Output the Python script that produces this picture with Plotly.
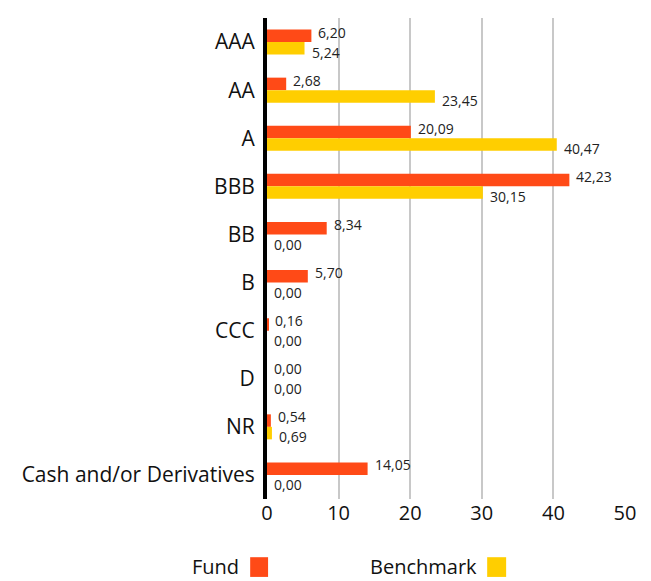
import plotly.graph_objects as go

categories = ["AAA", "AA", "A", "BBB", "BB", "B", "CCC", "D", "NR", "Cash and/or Derivatives"]
fund = [6.20, 2.68, 20.09, 42.23, 8.34, 5.70, 0.16, 0.00, 0.54, 14.05]
benchmark = [5.24, 23.45, 40.47, 30.15, 0.00, 0.00, 0.00, 0.00, 0.69, 0.00]
x_ticks = [0, 10, 20, 30, 40, 50]

FUND_COLOR = "#FF4A17"
BENCH_COLOR = "#FFCE00"
FONT = "Open Sans"

fig = go.Figure()
fig.add_trace(go.Bar(
    y=categories, x=fund, name="Fund", orientation="h",
    marker=dict(color=FUND_COLOR, line=dict(width=0)), showlegend=False,
))
fig.add_trace(go.Bar(
    y=categories, x=benchmark, name="Benchmark", orientation="h",
    marker=dict(color=BENCH_COLOR, line=dict(width=0)), showlegend=False,
))

# value labels at the end of each bar (fund nudged up, benchmark nudged down)
for values, shift in ((fund, 10), (benchmark, -10)):
    for cat, v in zip(categories, values):
        fig.add_annotation(x=v, y=cat, xref="x", yref="y", xanchor="left", yanchor="middle",
                           xshift=5, yshift=shift, showarrow=False,
                           text=f"{v:.2f}".replace(".", ","),
                           font=dict(size=14, color="#222", family=FONT))

# custom legend: text followed by colour box
legend_items = [("Fund", FUND_COLOR, -0.073, -0.047, 0.003),
                ("Benchmark", BENCH_COLOR, 0.592, 0.615, 0.668)]
for label, color, xt, x0, x1 in legend_items:
    fig.add_annotation(xref="paper", yref="paper", x=xt, y=-0.141, xanchor="right", yanchor="middle",
                       text=label, showarrow=False, font=dict(size=20, color="#111", family=FONT))
    fig.add_shape(type="rect", xref="paper", yref="paper",
                  x0=x0, x1=x1, y0=-0.162, y1=-0.121,
                  fillcolor=color, line=dict(width=0))

# the page puts the figure 8px in from the top-left corner
fig.update_layout(
    width=643, height=573,
    margin=dict(l=259, r=26, t=10, b=82, autoexpand=False),
    paper_bgcolor="white", plot_bgcolor="white",
    barmode="group", bargap=0.48, bargroupgap=0,
    separators=",.",
    font=dict(family=FONT, color="#111"),
    xaxis=dict(range=[0, 50], tickvals=x_ticks, showgrid=True, gridcolor="#c8c8c8", gridwidth=2,
               zeroline=False, showline=False, ticks="", automargin=False,
               tickfont=dict(size=20, color="#111")),
    yaxis=dict(autorange="reversed", showline=True, linecolor="#000", linewidth=4, ticks="",
               automargin=False, tickfont=dict(size=21, color="#111"), ticklabelstandoff=4),
)

fig.write_html("out.html")
